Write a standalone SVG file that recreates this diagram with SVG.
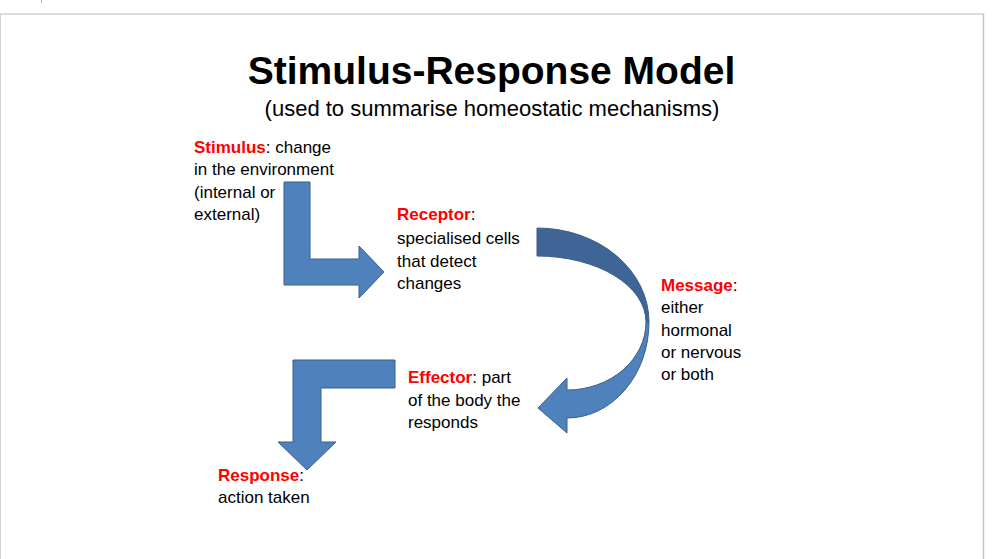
<svg xmlns="http://www.w3.org/2000/svg" width="1002" height="559" viewBox="0 0 1002 559">
<style>
  text { font-family: "Liberation Sans", Arial, sans-serif; fill: #000; }
  .title { font-size: 39px; font-weight: bold; }
  .sub { font-size: 22px; }
  .body { font-size: 17px; }
  .key { fill: #ff0000; font-weight: bold; }
  .arrow { fill: #4f81bd; stroke: #3a5f8c; stroke-width: 1; stroke-linejoin: miter; }
  .arrow-back { fill: #3e6595; stroke: #3a5f8c; stroke-width: 1; }
</style>
<rect x="0" y="0" width="1002" height="559" fill="#ffffff"/>
<line x1="41.5" y1="0" x2="41.5" y2="3" stroke="#8ab4f8" stroke-width="1"/>
<g id="slide-frame" fill="none">
  <line x1="0" y1="14" x2="984" y2="14" stroke="#dcdcdc" stroke-width="2"/>
  <line x1="983.5" y1="14" x2="983.5" y2="559" stroke="#c4c4c4" stroke-width="1.5"/>
  <line x1="0.5" y1="14" x2="0.5" y2="559" stroke="#d4d4d4" stroke-width="1"/>
</g>
<g id="title">
  <text class="title" x="491.5" y="84" text-anchor="middle">Stimulus-Response Model</text>
</g>
<g id="subtitle">
  <text class="sub" x="492" y="116" text-anchor="middle">(used to summarise homeostatic mechanisms)</text>
</g>
<g id="connectors">
  <path id="arrow-stimulus-receptor" class="arrow" d="M284,182 H310 V259 H359 V246 L384,272 L359,298 V285 H284 Z"/>
  <g id="arrow-receptor-effector">
    <path class="arrow-back" d="M537,228 A112,94 0 0 1 649,322 L646,322 A109,66 0 0 0 537,256 Z"/>
    <path class="arrow" d="M649,322 A82,96 0 0 1 567,418 L567,433 L538,408 L567,378 L567,390 A79,68 0 0 0 646,322 Z"/>
  </g>
  <path id="arrow-effector-response" class="arrow" d="M395,360 V388 H321 V442 H336 L307,470 L278,442 H293 V360 Z"/>
</g>
<g id="stimulus">
  <text class="body" x="194" y="153"><tspan class="key">Stimulus</tspan>: change</text>
  <text class="body" x="194" y="175">in the environment</text>
  <text class="body" x="194" y="198">(internal or</text>
  <text class="body" x="194" y="220">external)</text>
</g>
<g id="receptor">
  <text class="body" x="397" y="220"><tspan class="key">Receptor</tspan>:</text>
  <text class="body" x="397" y="244">specialised cells</text>
  <text class="body" x="397" y="267">that detect</text>
  <text class="body" x="397" y="289">changes</text>
</g>
<g id="message">
  <text class="body" x="661" y="291"><tspan class="key">Message</tspan>:</text>
  <text class="body" x="661" y="313">either</text>
  <text class="body" x="661" y="336">hormonal</text>
  <text class="body" x="661" y="358">or nervous</text>
  <text class="body" x="661" y="380">or both</text>
</g>
<g id="effector">
  <text class="body" x="408" y="383"><tspan class="key">Effector</tspan>: part</text>
  <text class="body" x="408" y="406">of the body the</text>
  <text class="body" x="408" y="428">responds</text>
</g>
<g id="response">
  <text class="body" x="218" y="481"><tspan class="key">Response</tspan>:</text>
  <text class="body" x="218" y="503">action taken</text>
</g>
</svg>
